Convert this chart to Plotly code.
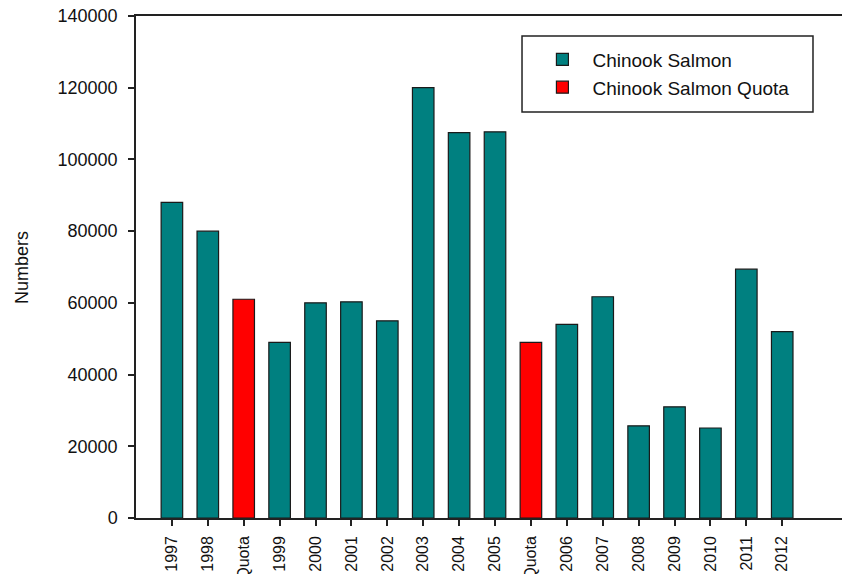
import plotly.graph_objects as go

categories = ["1997", "1998", "Quota", "1999", "2000", "2001", "2002", "2003", "2004",
              "2005", "Quota", "2006", "2007", "2008", "2009", "2010", "2011", "2012"]
is_quota = [False, False, True, False, False, False, False, False, False,
            False, True, False, False, False, False, False, False, False]
values = [88000, 80000, 61000, 49000, 60000, 60300, 55000, 120000, 107500,
          107700, 49000, 54000, 61700, 25700, 31000, 25100, 69400, 52000]

y_ticks = [0, 20000, 40000, 60000, 80000, 100000, 120000, 140000]

idx = list(range(len(categories)))
salmon_x = [i for i in idx if not is_quota[i]]
salmon_y = [values[i] for i in idx if not is_quota[i]]
quota_x = [i for i in idx if is_quota[i]]
quota_y = [values[i] for i in idx if is_quota[i]]

FONT = "Arial, Liberation Sans, sans-serif"
outline = dict(color="#1a1a1a", width=1.2)

fig = go.Figure()
fig.add_trace(go.Bar(x=salmon_x, y=salmon_y, name="Chinook Salmon", width=0.6,
                     marker=dict(color="#008080", line=outline)))
fig.add_trace(go.Bar(x=quota_x, y=quota_y, name="Chinook Salmon Quota", width=0.6,
                     marker=dict(color="#FF0000", line=outline)))

# legend frame (page body has an 8px margin, figure is 842x566)
fig.add_shape(type="rect", xref="paper", yref="paper",
              x0=0.5414, x1=0.9495, y0=0.8088, y1=0.9602,
              line=dict(color="#222222", width=1.5), fillcolor="white", layer="above")

fig.update_layout(
    width=842, height=566,
    margin=dict(l=128, r=1, t=8, b=56, autoexpand=False),
    plot_bgcolor="white", paper_bgcolor="white",
    font=dict(family=FONT, color="#111111", size=18),
    barmode="overlay",
    showlegend=True,
    legend=dict(x=0.556, y=0.951, xanchor="left", yanchor="top",
                borderwidth=0, bgcolor="rgba(0,0,0,0)",
                font=dict(size=19, family=FONT), traceorder="normal",
                itemwidth=50),
    annotations=[dict(text="Numbers", xref="paper", yref="paper",
                      x=-0.16, y=0.5, xanchor="center", yanchor="middle",
                      textangle=-90, showarrow=False,
                      font=dict(size=18, family=FONT, color="#111111"))],
)
fig.update_xaxes(
    range=[-1, 18.86], tickmode="array", tickvals=idx, ticktext=categories,
    tickangle=-90, tickfont=dict(size=16, family=FONT),
    showline=True, linecolor="#222222", linewidth=1.5, mirror=True,
    ticks="outside", ticklen=6, tickwidth=1.5, tickcolor="#222222",
    showgrid=False, zeroline=False, automargin=False,
    ticklabeloverflow="allow", ticklabelstandoff=4,
)
fig.update_yaxes(
    range=[0, 140000], tickmode="array", tickvals=y_ticks,
    ticktext=[str(v) for v in y_ticks], tickfont=dict(size=18, family=FONT),
    showline=True, linecolor="#222222", linewidth=1.5,
    ticks="outside", ticklen=6, tickwidth=1.5, tickcolor="#222222",
    showgrid=False, zeroline=False, automargin=False,
    ticklabeloverflow="allow", ticklabelstandoff=7,
)

fig.write_html("out.html")
